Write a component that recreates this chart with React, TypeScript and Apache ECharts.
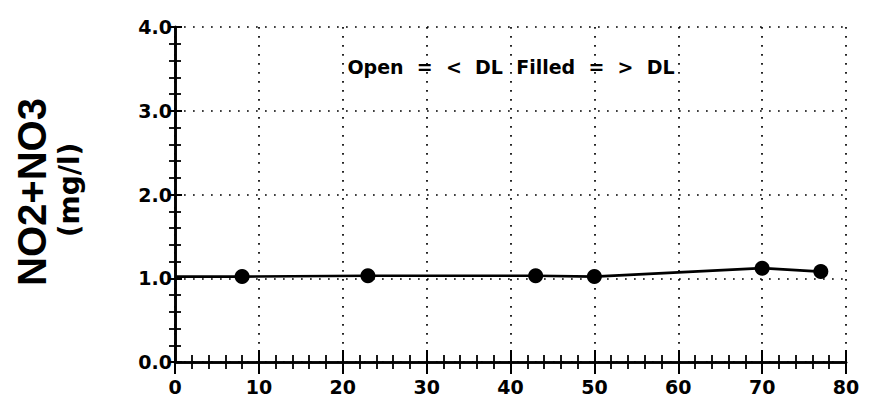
import React, { useEffect, useRef } from "react";
import * as echarts from "echarts";

// Depth (x) and NO2+NO3 (mg/l) values
const depth = [8, 23, 43, 50, 70, 77];
const no2no3 = [1.02, 1.03, 1.03, 1.02, 1.12, 1.08];
// the connecting line starts at the left axis
const lineStartX = 0;
const lineStartY = 1.02;

const xTicks = [0, 10, 20, 30, 40, 50, 60, 70, 80];
const yTicks = ["0.0", "1.0", "2.0", "3.0", "4.0"];
const yTitle = "NO2+NO3";
const yUnit = "(mg/l)";
const noteText = "Open  =  <  DL  Filled  =  >  DL";

const FONT = "'Liberation Sans', Arial, Helvetica, sans-serif";
const WIDE = "'DejaVu Sans', 'Liberation Sans', sans-serif";

export default function App() {
  const ref = useRef<HTMLDivElement>(null);
  useEffect(() => {
    document.body.style.margin = "0";
    if (!ref.current) return;
    const chart = echarts.init(ref.current, undefined, { renderer: "svg" });
    const lineData = [[lineStartX, lineStartY], ...depth.map((d, i) => [d, no2no3[i]])];
    const pointData = depth.map((d, i) => [d, no2no3[i]]);
    const axisLine = { show: true, lineStyle: { color: "#000", width: 2.6 } };
    const majorTick = { show: true, inside: true, length: 12, lineStyle: { color: "#000", width: 2 } };
    const minorTick = { show: true, splitNumber: 5, length: 7, lineStyle: { color: "#000", width: 1.8 } };
    const grid = { show: true, lineStyle: { color: "#000", width: 1.7, type: [1.7, 7.3] as any } };
    const xMin = xTicks[0];
    const xMax = xTicks[xTicks.length - 1];
    const xInt = xTicks[1] - xTicks[0];
    const yMin = parseFloat(yTicks[0]);
    const yMax = parseFloat(yTicks[yTicks.length - 1]);
    const yInt = parseFloat(yTicks[1]) - parseFloat(yTicks[0]);
    chart.setOption({
      animation: false,
      backgroundColor: "#fff",
      grid: { left: 175, right: 23, top: 27, bottom: 47 },
      xAxis: [
        {
          type: "value",
          min: xMin,
          max: xMax,
          interval: xInt,
          position: "bottom",
          axisLine,
          axisTick: majorTick,
          minorTick,
          splitLine: grid,
          axisLabel: {
            color: "#000",
            fontFamily: WIDE,
            fontWeight: "bold",
            fontSize: 19,
            margin: 15,
          },
        },
        {
          type: "value",
          min: xMin,
          max: xMax,
          interval: xInt,
          position: "top",
          axisLine,
          axisTick: majorTick,
          minorTick,
          splitLine: { show: false },
          axisLabel: { show: false },
        },
      ],
      yAxis: [
        {
          type: "value",
          min: yMin,
          max: yMax,
          interval: yInt,
          position: "left",
          axisLine,
          axisTick: { ...majorTick, length: 7 },
          minorTick: { ...minorTick, length: 6 },
          splitLine: grid,
          axisLabel: {
            color: "#000",
            fontFamily: WIDE,
            fontWeight: "bold",
            fontSize: 19,
            margin: 3,
            verticalAlign: "middle",
            padding: [0, 0, 9, 0],
            formatter: (v: number) => v.toFixed(1),
          },
        },
        {
          type: "value",
          min: yMin,
          max: yMax,
          interval: yInt,
          position: "right",
          axisLine,
          axisTick: { ...majorTick, length: 7 },
          minorTick: { ...minorTick, length: 6 },
          splitLine: { show: false },
          axisLabel: { show: false },
        },
      ],
      graphic: [
        {
          type: "text",
          x: 32,
          y: 192,
          rotation: Math.PI / 2,
          style: {
            text: yTitle,
            fill: "#000",
            font: `bold 40px ${FONT}`,
            align: "center",
            verticalAlign: "middle",
          },
        },
        {
          type: "text",
          x: 69,
          y: 190,
          rotation: Math.PI / 2,
          style: {
            text: yUnit,
            fill: "#000",
            font: `bold 28px ${WIDE}`,
            align: "center",
            verticalAlign: "middle",
          },
        },
        {
          type: "text",
          x: 511,
          y: 67,
          style: {
            text: noteText,
            fill: "#000",
            font: `bold 19px ${WIDE}`,
            align: "center",
            verticalAlign: "middle",
          },
        },
      ],
      series: [
        {
          type: "line",
          data: lineData,
          showSymbol: false,
          symbol: "none",
          lineStyle: { color: "#000", width: 2.7 },
          z: 3,
        },
        {
          type: "scatter",
          data: pointData,
          symbol: "circle",
          symbolSize: 15,
          itemStyle: { color: "#000", opacity: 1 },
          z: 4,
        },
      ],
    });
    return () => chart.dispose();
  }, []);
  return <div ref={ref} style={{ width: 869, height: 409 }} />;
}
